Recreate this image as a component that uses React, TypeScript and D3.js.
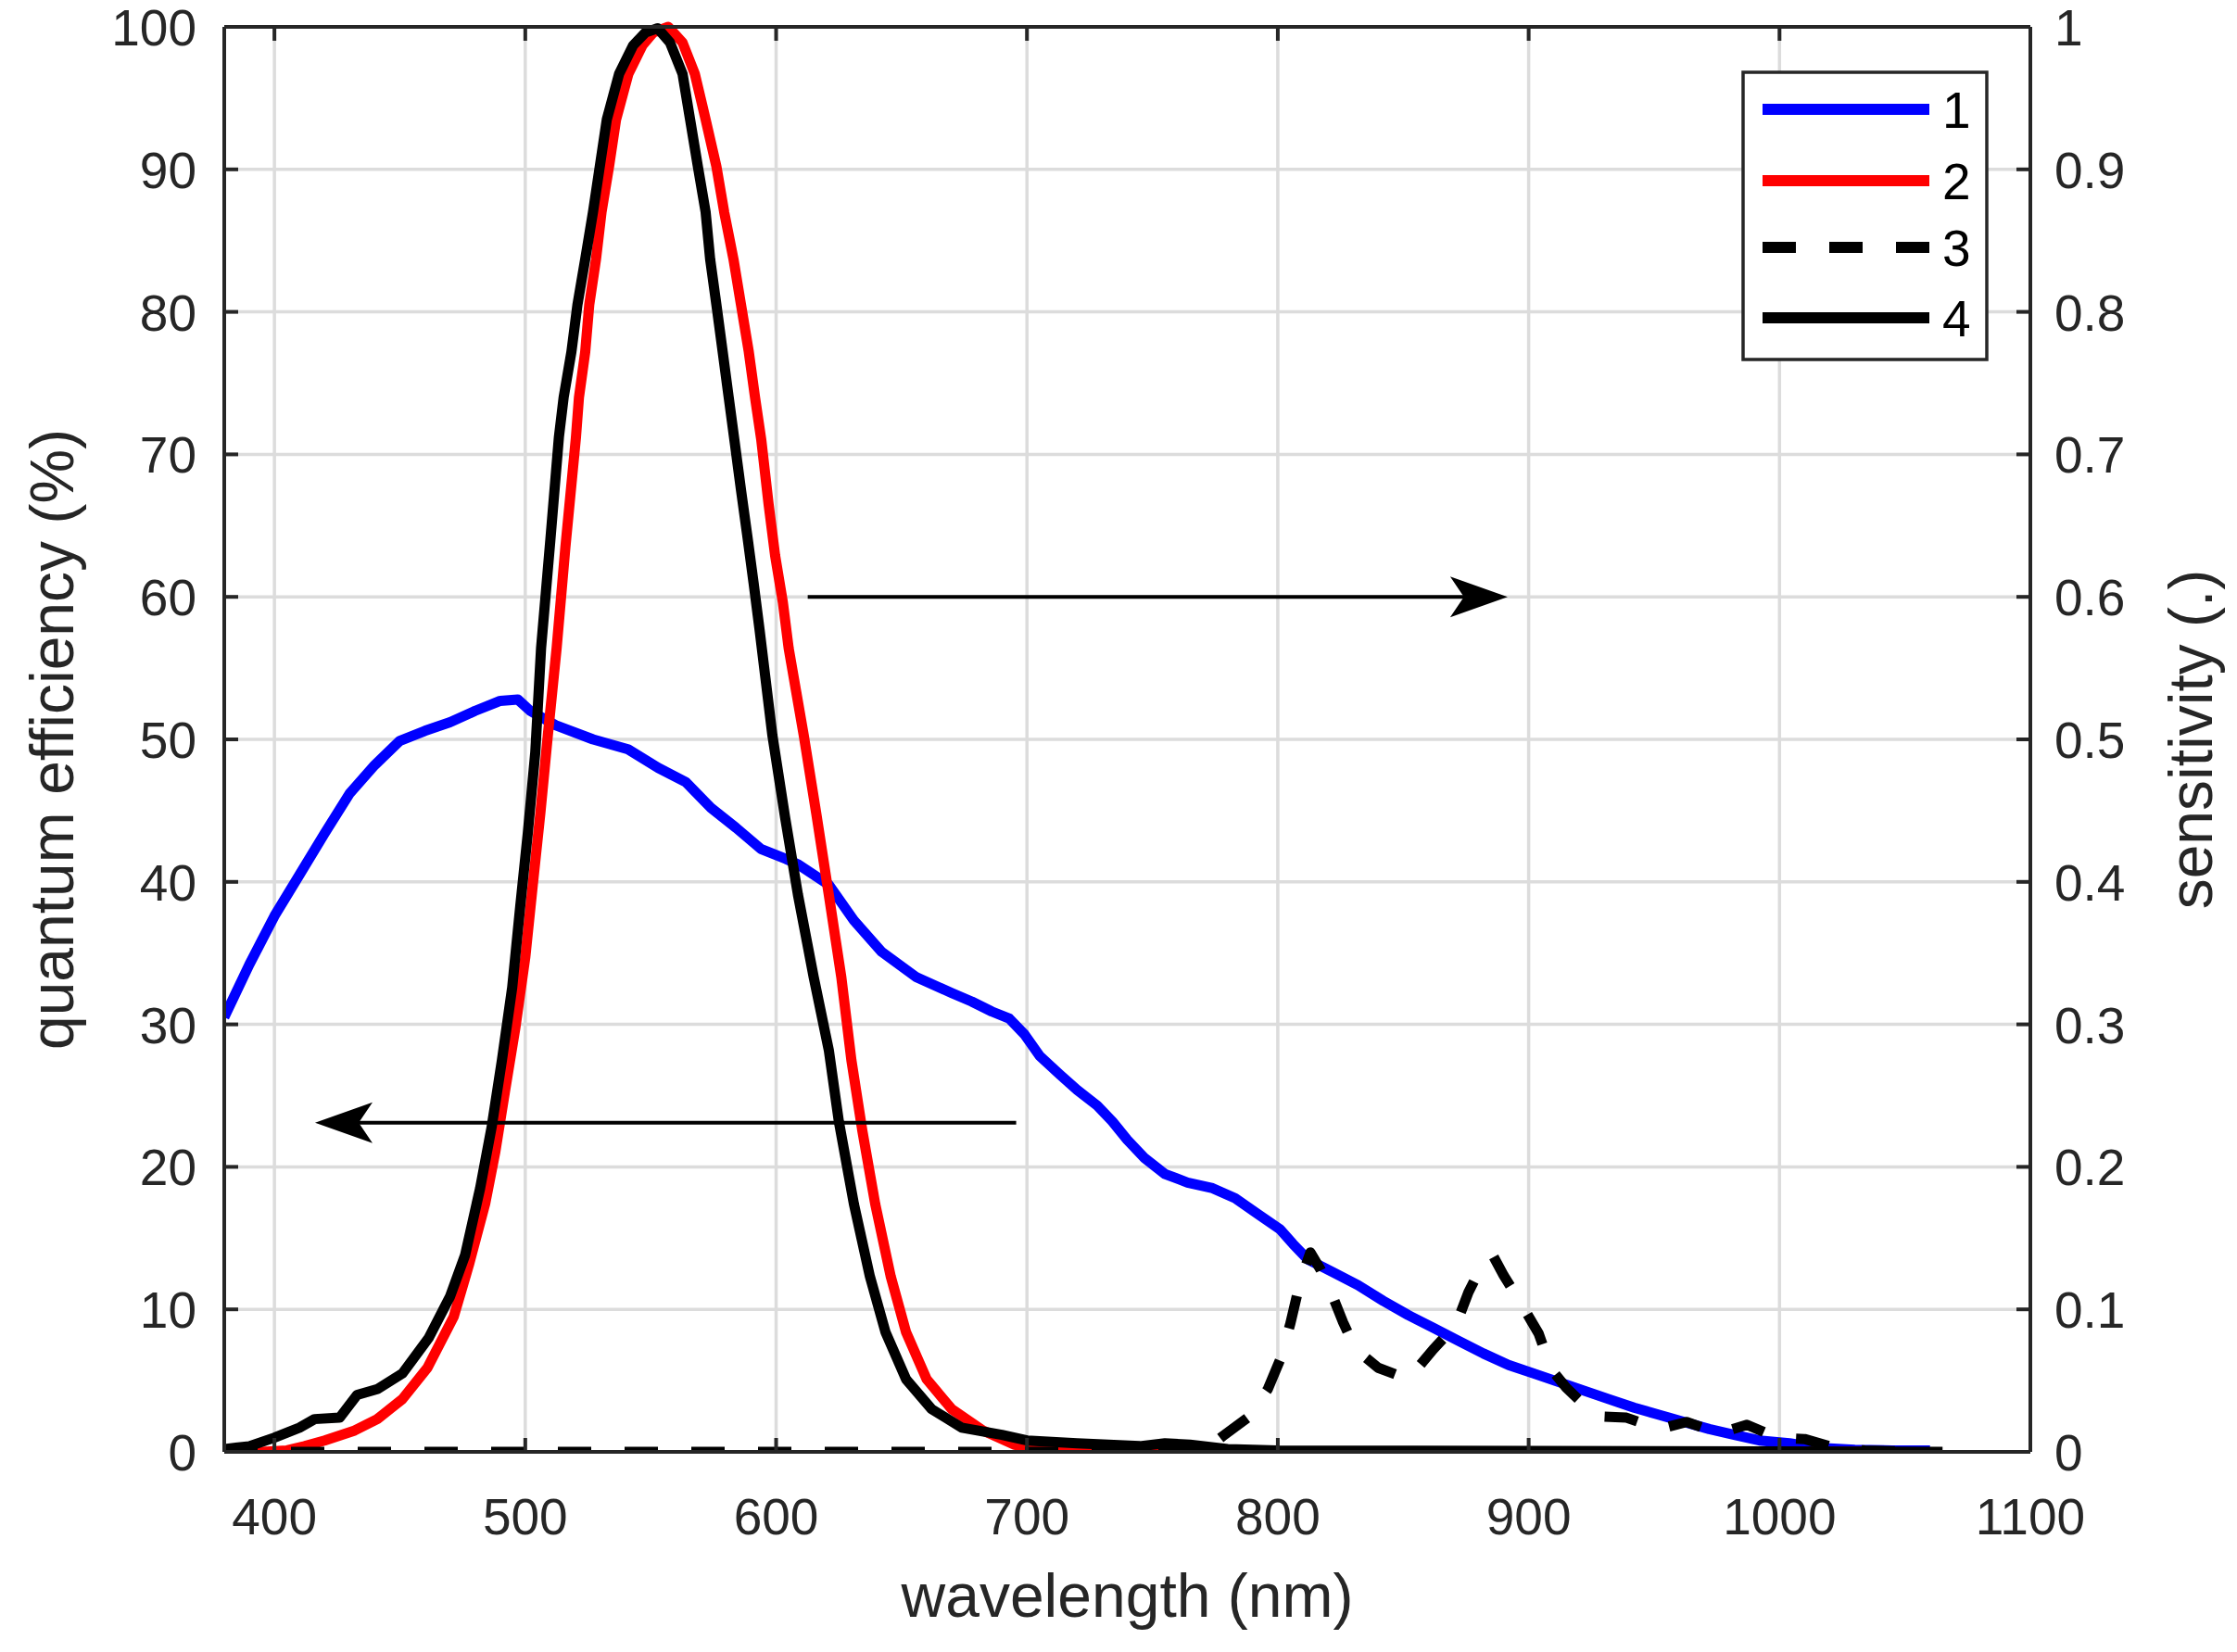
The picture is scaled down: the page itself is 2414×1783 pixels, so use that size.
import React from "react";
import * as d3 from "d3";

// ---- data ----
const xTicks = [400, 500, 600, 700, 800, 900, 1000, 1100];
const yLeftTicks = [0, 10, 20, 30, 40, 50, 60, 70, 80, 90, 100];
const yRightTicks = [0, 0.1, 0.2, 0.3, 0.4, 0.5, 0.6, 0.7, 0.8, 0.9, 1];
const legendLabels = ["1", "2", "3", "4"];

// series 1: quantum efficiency (%)  [wavelength nm, %]
const qeSeries: [number, number][] = [
  [380, 30.5], [390, 34.2], [400, 37.6], [410, 40.5], [420, 43.4], [430, 46.2], [440, 48.2],
  [450, 49.9], [460, 50.6], [470, 51.2], [480, 52.0], [490, 52.7], [497, 52.8], [502, 52.0],
  [512, 51.0], [527, 50.0], [541, 49.3], [553, 48.0], [564, 47.0], [574, 45.2], [584, 43.8],
  [594, 42.3], [604, 41.6], [609, 41.2], [621, 39.8], [631, 37.3], [642, 35.1], [656, 33.3],
  [670, 32.2], [678, 31.6], [686, 30.9], [693, 30.4], [699, 29.3], [705, 27.8], [713, 26.5],
  [720, 25.4], [728, 24.3], [734, 23.2], [740, 21.9], [747, 20.6], [755, 19.5], [764, 18.9],
  [774, 18.5], [783, 17.8], [792, 16.7], [801, 15.6], [806, 14.6], [812, 13.5], [822, 12.6],
  [832, 11.7], [842, 10.6], [852, 9.6], [862, 8.7], [872, 7.8], [882, 6.9], [892, 6.1],
  [902, 5.5], [912, 4.9], [922, 4.3], [932, 3.7], [942, 3.1], [952, 2.6], [962, 2.1],
  [972, 1.6], [982, 1.2], [992, 0.8], [1004, 0.6], [1015, 0.3], [1030, 0.15], [1045, 0.1], [1060, 0.1],
];

// series 2: sensitivity (.)
const redSeries: [number, number][] = [
  [380, 0], [395, 0], [405, 0.001], [412, 0.004], [420, 0.008], [432, 0.015], [441, 0.023],
  [451, 0.037], [461, 0.059], [471.5, 0.095], [477.5, 0.131], [484, 0.174], [488, 0.21],
  [492, 0.254], [496, 0.297], [500, 0.347], [503, 0.398], [506, 0.448], [509, 0.503],
  [512.5, 0.564], [516, 0.635], [520.2, 0.712], [521.4, 0.74], [523.9, 0.772], [525.5, 0.805],
  [528.2, 0.837], [530.4, 0.87], [533.4, 0.902], [536.2, 0.935], [541.1, 0.967], [546.7, 0.987],
  [551, 0.996], [557, 1.0], [562.7, 0.989], [567.6, 0.967], [571.9, 0.935], [576.2, 0.902],
  [579.3, 0.87], [583, 0.837], [586, 0.805], [589.1, 0.772], [591.6, 0.74], [594.1, 0.71],
  [597, 0.665], [599.6, 0.629], [602.7, 0.596], [605, 0.564], [611, 0.503], [616, 0.448],
  [621, 0.391], [626, 0.333], [630, 0.275], [634.4, 0.225], [639.5, 0.174], [645.7, 0.123],
  [651.8, 0.084], [660, 0.051], [670, 0.03], [682.5, 0.015], [695, 0.005], [710, 0.001],
  [730, 0], [1035, 0],
];

// series 3: sensitivity (.) dashed
const dashedSeries: [number, number][] = [
  [380, 0], [770, 0], [778, 0.011], [788, 0.024], [796, 0.044], [801, 0.065], [805, 0.09],
  [809, 0.12], [813, 0.14], [817, 0.128], [821, 0.113], [826, 0.091], [831, 0.072],
  [840, 0.059], [852, 0.051], [862, 0.072], [871, 0.089], [876, 0.112], [882, 0.133],
  [886, 0.137], [890, 0.124], [898, 0.101], [904, 0.083], [909, 0.058], [915, 0.045],
  [927, 0.025], [939, 0.024], [952, 0.016], [963, 0.021], [976, 0.013], [987, 0.019],
  [999, 0.01], [1010, 0.009], [1022, 0.003], [1034, 0.001], [1055, 0],
];

// series 4: sensitivity (.) solid black
const blackSeries: [number, number][] = [
  [380, 0.002], [390, 0.004], [400, 0.01], [410, 0.017], [416, 0.023], [426, 0.024],
  [433, 0.04], [441, 0.044], [451, 0.055], [461.5, 0.08], [470, 0.109], [476, 0.138],
  [482, 0.185], [486.6, 0.228], [490.7, 0.275], [494.8, 0.326], [498, 0.383], [501, 0.434],
  [504, 0.491], [506.3, 0.564], [510, 0.64], [513.4, 0.712], [515.3, 0.74], [518.4, 0.772],
  [520.8, 0.805], [523.9, 0.837], [527, 0.87], [529.7, 0.902], [532.5, 0.935], [537.4, 0.967],
  [543, 0.987], [547.9, 0.996], [552.8, 0.999], [557.7, 0.989], [562.7, 0.967], [565.7, 0.935],
  [568.8, 0.902], [571.9, 0.87], [573.7, 0.837], [576.2, 0.805], [578.7, 0.772], [581.1, 0.74],
  [583.6, 0.707], [586, 0.675], [588.5, 0.643], [591, 0.61], [593.4, 0.577], [598.5, 0.503],
  [603.6, 0.445], [608.7, 0.391], [615, 0.333], [621, 0.282], [625, 0.232], [631, 0.174],
  [637.4, 0.123], [643.6, 0.084], [651.8, 0.051], [662, 0.03], [674, 0.017], [690, 0.012],
  [700, 0.008], [720, 0.006], [745, 0.004], [755, 0.006], [765, 0.005], [780, 0.002],
  [800, 0.001], [1065, 0],
];

// annotation arrows: [from nm, to nm, level on left axis]
const arrowRight = { from: 612.6, to: 891.6, level: 60 };
const arrowLeft = { from: 695.7, to: 416.2, level: 23.1 };

const W = 2414;
const H = 1783;
const M = { left: 242, right: 2191, top: 29, bottom: 1567 };
const FONT = "'Liberation Sans', Arial, Helvetica, sans-serif";
const AX = "#262626";
const GRID = "#dcdcdc";

export default function App() {
  const x = d3.scaleLinear().domain([380, 1100]).range([M.left, M.right]);
  const yL = d3.scaleLinear().domain([0, 100]).range([M.bottom, M.top]);
  const yR = d3.scaleLinear().domain([0, 1]).range([M.bottom, M.top]);

  const lineL = d3.line<[number, number]>().x((d) => x(d[0])).y((d) => yL(d[1]));
  const lineR = d3.line<[number, number]>().x((d) => x(d[0])).y((d) => yR(d[1]));

  const tickLen = 15;
  const lw = 11;

  const arrow = (a: { from: number; to: number; level: number }, key: string) => {
    const x1 = x(a.from);
    const x2 = x(a.to);
    const yy = yL(a.level);
    const dir = x2 > x1 ? 1 : -1;
    const L = 62;
    const Wd = 22;
    const pts = [
      [x2, yy],
      [x2 - dir * L, yy - Wd],
      [x2 - dir * L * 0.76, yy],
      [x2 - dir * L, yy + Wd],
    ]
      .map((p) => p.join(","))
      .join(" ");
    return (
      <g key={key}>
        <line x1={x1} x2={x2 - dir * 40} y1={yy} y2={yy} stroke="#000" strokeWidth={4} />
        <polygon points={pts} fill="#000" />
      </g>
    );
  };

  const legend = {
    x0: 1881, y0: 78, x1: 2144, y1: 388,
    lineX0: 1902, lineX1: 2082, textX: 2096,
    rows: [118, 195, 267, 343],
  };
  const legendStyles = [
    { color: "#0000ff", dash: undefined },
    { color: "#ff0000", dash: undefined },
    { color: "#000000", dash: "36 36" },
    { color: "#000000", dash: undefined },
  ];

  return (
    <svg
      width={W}
      height={H}
      viewBox={`0 0 ${W} ${H}`}
      style={{ position: "absolute", left: 0, top: 0, display: "block", background: "#fff" }}
      fontFamily={FONT}
    >
      <rect x={0} y={0} width={W} height={H} fill="#fff" />
      <defs>
        <clipPath id="plotClip">
          <rect x={M.left} y={M.top - 6} width={M.right - M.left} height={M.bottom - M.top + 6} />
        </clipPath>
      </defs>

      {/* grid */}
      <g stroke={GRID} strokeWidth={3.5}>
        {xTicks.map((t) => (
          <line key={"gx" + t} x1={x(t)} x2={x(t)} y1={M.top} y2={M.bottom} />
        ))}
        {yLeftTicks.map((t) => (
          <line key={"gy" + t} x1={M.left} x2={M.right} y1={yL(t)} y2={yL(t)} />
        ))}
      </g>

      {/* curves */}
      <g clipPath="url(#plotClip)" fill="none" strokeLinejoin="round">
        <path d={lineL(qeSeries) || ""} stroke="#0000ff" strokeWidth={lw} />
        <path d={lineR(redSeries) || ""} stroke="#ff0000" strokeWidth={lw} />
        <path d={lineR(dashedSeries) || ""} stroke="#000" strokeWidth={lw} strokeDasharray="36 36" />
        <path d={lineR(blackSeries) || ""} stroke="#000" strokeWidth={lw} />
      </g>

      {/* arrows */}
      {arrow(arrowRight, "ar")}
      {arrow(arrowLeft, "al")}

      {/* axes box */}
      <g stroke={AX} strokeWidth={4} fill="none">
        <line x1={M.left} x2={M.right} y1={M.bottom} y2={M.bottom} />
        <line x1={M.left} x2={M.right} y1={M.top} y2={M.top} />
        <line x1={M.left} x2={M.left} y1={M.top} y2={M.bottom} />
        <line x1={M.right} x2={M.right} y1={M.top} y2={M.bottom} />
      </g>

      {/* ticks */}
      <g stroke={AX} strokeWidth={4}>
        {xTicks.map((t) => (
          <g key={"tx" + t}>
            <line x1={x(t)} x2={x(t)} y1={M.bottom} y2={M.bottom - tickLen} />
            <line x1={x(t)} x2={x(t)} y1={M.top} y2={M.top + tickLen} />
          </g>
        ))}
        {yLeftTicks.map((t) => (
          <line key={"tl" + t} x1={M.left} x2={M.left + tickLen} y1={yL(t)} y2={yL(t)} />
        ))}
        {yRightTicks.map((t) => (
          <line key={"tr" + t} x1={M.right} x2={M.right - tickLen} y1={yR(t)} y2={yR(t)} />
        ))}
      </g>

      {/* tick labels */}
      <g fill={AX} fontSize={55}>
        {xTicks.map((t) => (
          <text key={"lx" + t} x={x(t)} y={1656} textAnchor="middle">
            {t}
          </text>
        ))}
        {yLeftTicks.map((t) => (
          <text key={"ll" + t} x={212} y={yL(t) + 20} textAnchor="end">
            {t}
          </text>
        ))}
        {yRightTicks.map((t) => (
          <text key={"lr" + t} x={2217} y={yR(t) + 20} textAnchor="start">
            {d3.format("~g")(t)}
          </text>
        ))}
      </g>

      {/* axis labels */}
      <g fill={AX} fontSize={66}>
        <text x={(M.left + M.right) / 2} y={1745} textAnchor="middle">
          wavelength (nm)
        </text>
        <text
          transform={`translate(79, ${(M.top + M.bottom) / 2}) rotate(-90)`}
          textAnchor="middle"
        >
          quantum efficiency (%)
        </text>
        <text
          transform={`translate(2387, ${(M.top + M.bottom) / 2}) rotate(-90)`}
          textAnchor="middle"
        >
          sensitivity (.)
        </text>
      </g>

      {/* legend */}
      <g>
        <rect
          x={legend.x0}
          y={legend.y0}
          width={legend.x1 - legend.x0}
          height={legend.y1 - legend.y0}
          fill="#fff"
          stroke={AX}
          strokeWidth={3.5}
        />
        {legendLabels.map((lab, i) => (
          <g key={"lg" + lab}>
            <line
              x1={legend.lineX0}
              x2={legend.lineX1}
              y1={legend.rows[i]}
              y2={legend.rows[i]}
              stroke={legendStyles[i].color}
              strokeWidth={12}
              strokeDasharray={legendStyles[i].dash}
            />
            <text x={legend.textX} y={legend.rows[i] + 20} fontSize={55} fill="#000">
              {lab}
            </text>
          </g>
        ))}
      </g>
    </svg>
  );
}
